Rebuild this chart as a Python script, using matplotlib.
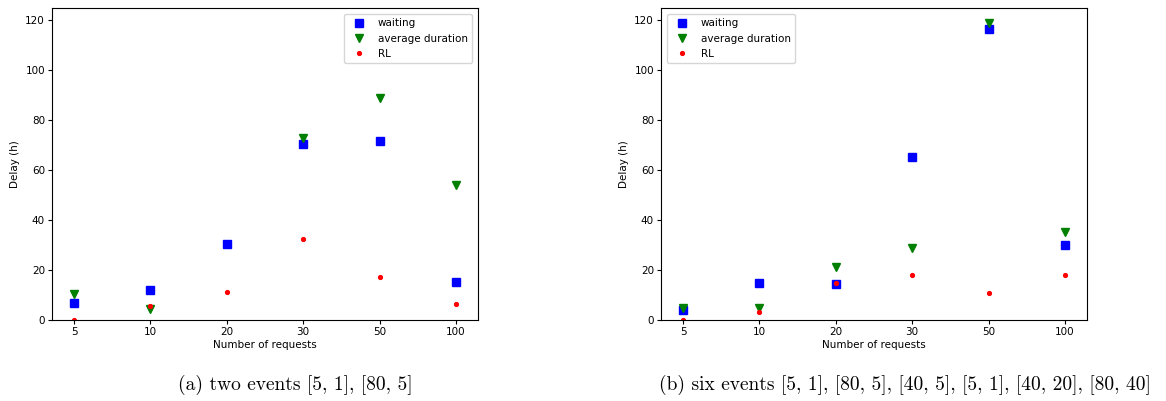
import numpy as np
import matplotlib
matplotlib.use("Agg")
import matplotlib.pyplot as plt

requests = ["5", "10", "20", "30", "50", "100"]

# (a) two events
waiting_a = [6.9, 12.0, 30.5, 70.7, 71.6, 15.1]
duration_a = [10.4, 4.3, np.nan, 72.8, 89.0, 53.9]
rl_a = [0.0, 5.5, 11.3, 32.5, 17.2, 6.3]

# (b) six events
waiting_b = [4.0, 14.8, 14.3, 65.3, 116.5, 30.0]
duration_b = [4.9, 4.7, 21.2, 28.7, 118.9, 35.2]
rl_b = [0.0, 3.1, 14.7, 17.9, 10.9, 17.9]

captions = ["(a) two events [5, 1], [80, 5]",
            "(b) six events [5, 1], [80, 5], [40, 5], [5, 1], [40, 20], [80, 40]"]

plt.rcParams["font.size"] = 7.5

fig = plt.figure(figsize=(11.66, 4.01), dpi=100)
W, H = 1166, 401


def panel(left_px, waiting, duration, rl, legend_loc):
    ax = fig.add_axes([left_px / W, (H - 320) / H, 426 / W, 312 / H])
    ax.plot(requests, waiting, "s", color="b", markersize=5.2, label="waiting")
    ax.plot(requests, duration, "v", color="g", markersize=5.6, label="average duration")
    ax.plot(requests, rl, ".", color="r", markersize=5.5, label="RL")
    ax.set_xlim(-0.29, 5.29)
    ax.set_ylim(0, 125)
    ax.set_yticks([0, 20, 40, 60, 80, 100, 120])
    ax.set_xlabel("Number of requests", labelpad=2)
    ax.set_ylabel("Delay (h)")
    ax.tick_params(length=3, pad=2)
    for s in ax.spines.values():
        s.set_linewidth(0.8)
    ax.legend(loc=legend_loc, fontsize=7.5, numpoints=1, borderaxespad=0.6)
    return ax


panel(52, waiting_a, duration_a, rl_a, "upper right")
panel(661, waiting_b, duration_b, rl_b, "upper left")

fig.text(295 / W, 1 - 385 / H, captions[0], ha="center", va="center",
         fontsize=14, family="cmr10")
fig.text(905 / W, 1 - 385 / H, captions[1], ha="center", va="center",
         fontsize=14, family="cmr10")

fig.savefig("out.png", dpi=100)
